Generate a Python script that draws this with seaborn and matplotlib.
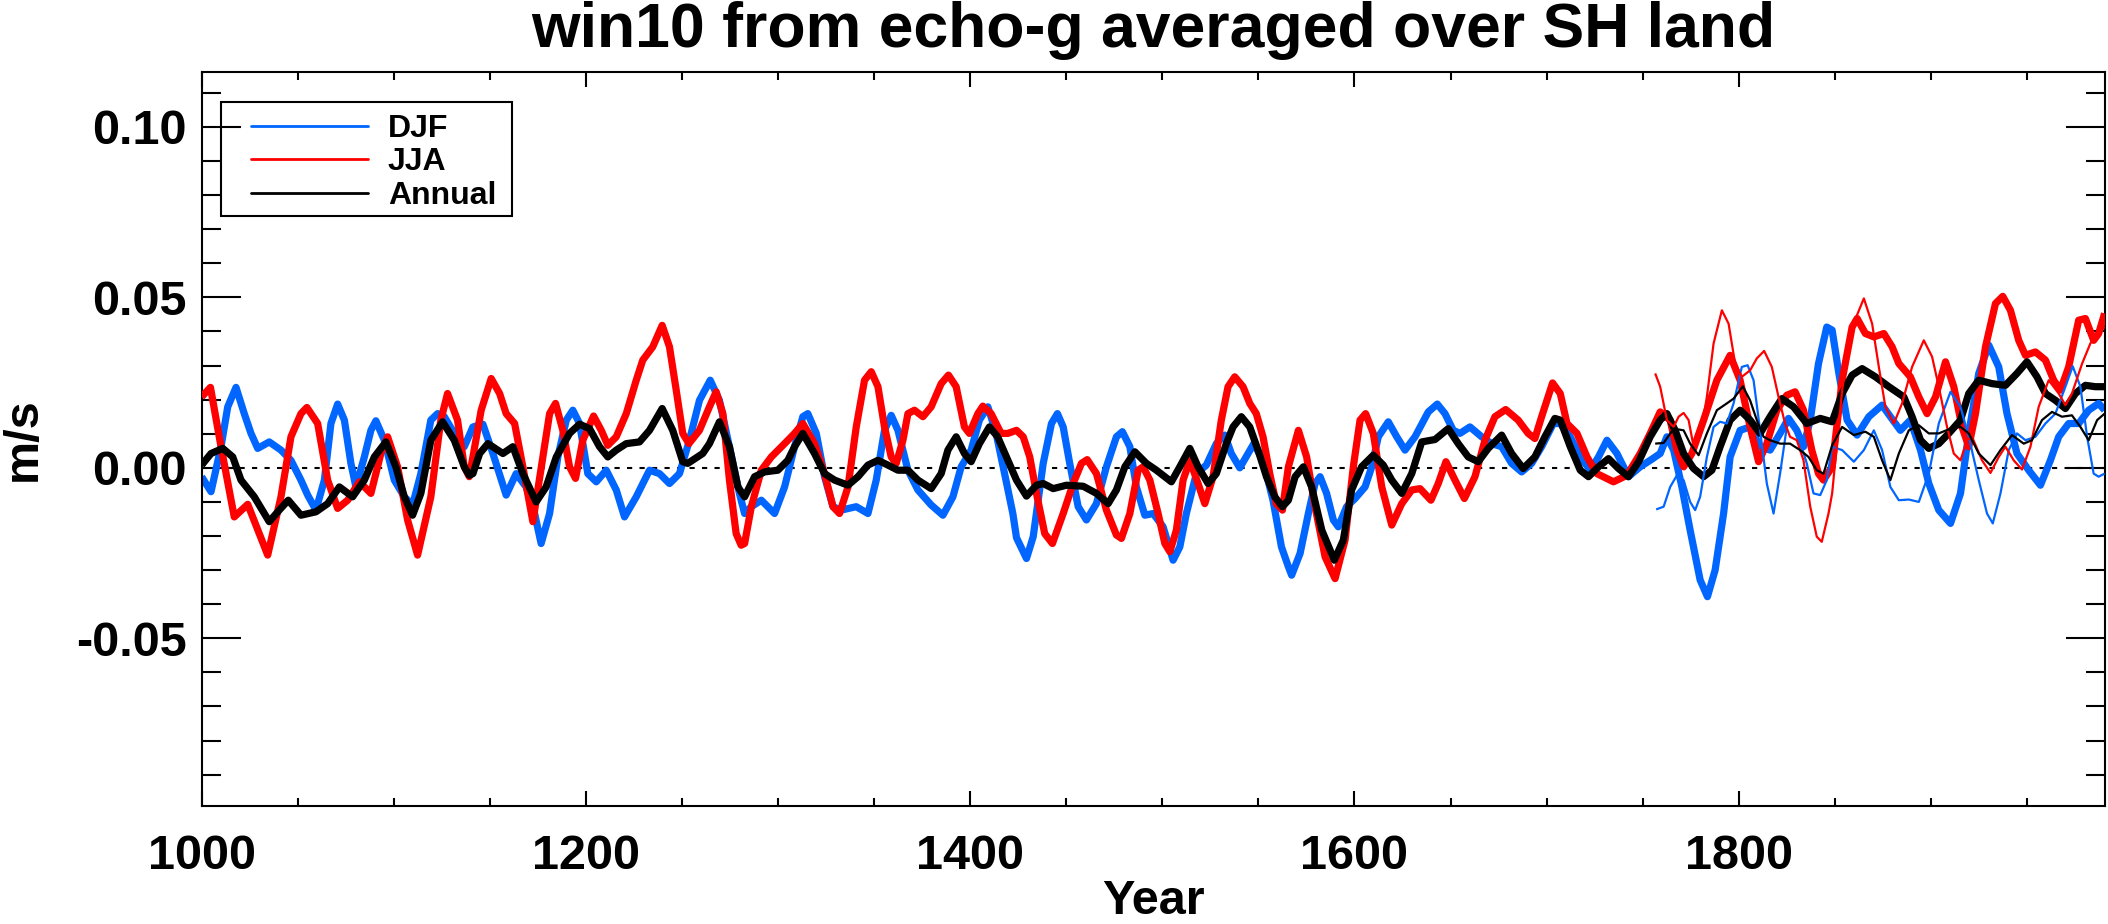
import numpy as np
import pandas as pd
import matplotlib
matplotlib.use("Agg")
import matplotlib.pyplot as plt
import seaborn as sns
from matplotlib.lines import Line2D
from matplotlib.patches import Rectangle
from matplotlib.ticker import MultipleLocator, FormatStrFormatter

# ---------------- data ----------------
djf_year = [1000.0, 1004.9, 1010.1, 1013.6, 1017.9, 1022.2, 1025.7, 1029.2, 1035.2, 1041.3, 1046.5, 1051.7,
            1055.2, 1059.5, 1063.9, 1067.3, 1070.8, 1074.3, 1077.7, 1080.3, 1084.7, 1088.1, 1090.7, 1095.1,
            1100.3, 1105.5, 1109.8, 1114.1, 1119.3, 1122.8, 1126.3, 1131.5, 1136.7,
            1141.2, 1146.4, 1151.6, 1158.5, 1163.7, 1168.9, 1173.3, 1176.7, 1181.1, 1185.4, 1189.8, 1193.2,
            1196.7, 1201.0, 1205.4, 1210.6, 1215.8, 1220.1, 1226.2, 1233.1, 1238.3, 1243.5, 1248.7, 1253.9,
            1259.1, 1264.7, 1269.5, 1274.7, 1279.9,
            1282.6, 1286.1, 1291.3, 1298.2, 1303.4, 1308.6, 1312.9, 1315.5, 1319.9, 1324.2, 1328.6, 1332.9,
            1340.7, 1346.8, 1351.1, 1355.4, 1358.9, 1362.4, 1367.6, 1372.8, 1379.7, 1385.8, 1391.0, 1395.3,
            1400.5, 1404.8, 1409.2, 1413.5, 1417.9, 1422.2,
            1424.1, 1429.3, 1432.8, 1438.0, 1442.3, 1445.4, 1448.4, 1451.8, 1456.2, 1460.5, 1465.7, 1470.9,
            1476.1, 1479.2, 1483.1, 1486.5, 1490.9, 1495.2, 1500.4, 1505.6, 1509.1, 1512.5, 1517.7, 1522.9,
            1528.1, 1532.5, 1535.9, 1540.3, 1544.6, 1547.6, 1552.4, 1557.6, 1562.0,
            1565.6, 1567.3, 1571.7, 1576.0, 1579.5, 1582.1, 1585.5, 1589.0, 1591.6, 1595.9, 1600.3, 1605.5,
            1609.0, 1612.4, 1617.6, 1622.0, 1626.3, 1631.5, 1638.4, 1643.1, 1647.1, 1651.4, 1654.9, 1660.1,
            1666.2, 1671.4, 1676.6, 1681.8, 1687.0, 1692.2, 1697.4, 1703.5,
            1707.1, 1712.3, 1717.5, 1722.7, 1727.0, 1731.4, 1736.6, 1742.6, 1748.7, 1753.9, 1759.1, 1762.6,
            1766.1, 1770.4, 1774.7, 1779.9, 1783.7, 1787.7, 1792.1, 1795.5, 1800.7, 1805.9, 1811.1, 1816.3,
            1821.5, 1825.9, 1830.2, 1833.7, 1837.2, 1841.5, 1845.8,
            1848.6, 1852.1, 1856.4, 1861.6, 1867.7, 1874.6, 1878.9, 1884.1, 1889.3, 1894.6, 1898.9, 1904.1,
            1910.2, 1915.4, 1919.7, 1924.9, 1930.1, 1935.3, 1939.6, 1944.8, 1950.9, 1957.0, 1962.2, 1966.5,
            1971.7, 1976.9, 1982.1, 1987.3, 1990.4]
djf_val = [-0.0026, -0.0070, 0.0062, 0.0179, 0.0236, 0.0159, 0.0101, 0.0057, 0.0076, 0.0052, 0.0022, -0.0036,
           -0.0080, -0.0124, -0.0036, 0.0130, 0.0187, 0.0140, 0.0013, -0.0056, 0.0032, 0.0110, 0.0138, 0.0081,
           -0.0036, -0.0085, -0.0109, -0.0017, 0.0140, 0.0159, 0.0150, 0.0101, 0.0062,
           0.0120, 0.0128, 0.0042, -0.0080, -0.0017, -0.0056, -0.0134, -0.0222, -0.0134, 0.0032, 0.0140, 0.0169,
           0.0130, -0.0017, -0.0041, -0.0007, -0.0065, -0.0144, -0.0085, -0.0007, -0.0017, -0.0046, -0.0017, 0.0081,
           0.0198, 0.0257, 0.0198, 0.0062, -0.0075,
           -0.0134, -0.0114, -0.0095, -0.0134, -0.0056, 0.0062, 0.0150, 0.0159, 0.0101, -0.0026, -0.0114, -0.0124,
           -0.0114, -0.0134, -0.0036, 0.0110, 0.0154, 0.0110, -0.0007, -0.0065, -0.0109, -0.0139, -0.0085, 0.0003,
           0.0052, 0.0140, 0.0179, 0.0101, -0.0017, -0.0134,
           -0.0205, -0.0266, -0.0202, 0.0013, 0.0130, 0.0159, 0.0120, 0.0013, -0.0114, -0.0153, -0.0105, 0.0003,
           0.0091, 0.0106, 0.0062, -0.0056, -0.0139, -0.0134, -0.0173, -0.0271, -0.0232, -0.0134, -0.0017, 0.0008,
           0.0071, 0.0096, 0.0042, 0.0000, 0.0042, 0.0071, 0.0022, -0.0095, -0.0232,
           -0.0290, -0.0315, -0.0251, -0.0134, -0.0046, -0.0026, -0.0075, -0.0153, -0.0173, -0.0114, -0.0090, -0.0056,
           0.0003, 0.0091, 0.0135, 0.0091, 0.0052, 0.0091, 0.0164, 0.0187, 0.0159, 0.0110, 0.0101, 0.0120,
           0.0091, 0.0071, 0.0062, 0.0013, -0.0012, 0.0013, 0.0062, 0.0130,
           0.0130, 0.0091, 0.0032, -0.0007, 0.0032, 0.0081, 0.0042, -0.0026, 0.0003, 0.0022, 0.0042, 0.0091,
           0.0052, -0.0056, -0.0183, -0.0329, -0.0378, -0.0300, -0.0134, 0.0032, 0.0110, 0.0120, 0.0062, 0.0052,
           0.0101, 0.0145, 0.0110, 0.0062, 0.0140, 0.0306, 0.0413,
           0.0404, 0.0277, 0.0140, 0.0096, 0.0150, 0.0184, 0.0150, 0.0110, 0.0140, 0.0052, -0.0046, -0.0124,
           -0.0163, -0.0075, 0.0101, 0.0277, 0.0360, 0.0296, 0.0159, 0.0042, -0.0007, -0.0051, 0.0022, 0.0091,
           0.0130, 0.0130, 0.0169, 0.0189, 0.0169]

jja_year = [1000.0, 1004.6, 1010.1, 1017.0, 1024.0, 1034.4, 1041.3, 1046.5, 1051.7, 1054.8, 1060.4, 1065.6,
            1070.8, 1076.0, 1082.1, 1088.1, 1093.3, 1096.8, 1102.0, 1107.2, 1112.4, 1119.3, 1124.5, 1128.0,
            1133.2, 1136.7, 1139.3,
            1141.2, 1145.5, 1150.7, 1155.1, 1158.5, 1162.9, 1167.2, 1172.4, 1177.6, 1181.1, 1184.2, 1188.0,
            1191.5, 1194.6, 1198.4, 1204.0, 1208.0, 1211.4, 1215.8, 1221.0, 1226.2, 1229.6, 1234.8, 1239.7,
            1243.5, 1247.0, 1250.4, 1253.6, 1259.1, 1264.3, 1267.8, 1271.3, 1274.7, 1278.2, 1280.8,
            1282.6, 1286.1, 1291.3, 1296.5, 1303.4, 1308.6, 1312.9, 1319.0, 1324.2, 1328.6, 1332.0, 1336.4,
            1340.7, 1345.0, 1348.5, 1352.0, 1355.4, 1358.9, 1361.5, 1365.0, 1367.6, 1371.0, 1375.4, 1379.7,
            1384.9, 1388.7, 1392.7, 1397.0, 1399.6, 1404.0, 1406.6, 1410.9, 1416.1, 1419.6,
            1424.1, 1427.6, 1431.0, 1434.5, 1438.8, 1442.8, 1448.4, 1453.6, 1457.9, 1460.9, 1465.7, 1470.9,
            1476.1, 1478.7, 1483.1, 1487.4, 1490.0, 1493.5, 1497.8, 1501.3, 1503.9, 1507.3, 1510.8, 1514.3,
            1518.6, 1522.1, 1526.4, 1530.7, 1534.2, 1537.7, 1542.0, 1545.5, 1548.9, 1552.4, 1555.9, 1559.3,
            1562.5,
            1565.6, 1570.8, 1575.1, 1579.5, 1584.7, 1589.9, 1595.1, 1599.4, 1602.9, 1605.8, 1609.8, 1614.2,
            1619.4, 1624.6, 1629.8, 1634.1, 1639.8, 1643.6, 1647.6, 1652.3, 1657.2, 1662.7, 1667.9, 1673.1,
            1678.7, 1685.2, 1690.4, 1693.9, 1697.4, 1703.1,
            1707.1, 1710.6, 1715.8, 1721.0, 1726.2, 1734.8, 1741.8, 1748.7, 1753.9, 1759.1, 1764.3, 1767.8,
            1771.3, 1775.6, 1781.7, 1788.6, 1795.5, 1800.7, 1805.9, 1810.3, 1814.6, 1819.8, 1825.0, 1829.3,
            1833.7, 1838.0, 1841.5, 1844.1,
            1848.6, 1853.8, 1859.0, 1861.6, 1865.9, 1870.3, 1875.5, 1879.8, 1883.3, 1889.3, 1893.7, 1898.0,
            1902.4, 1907.6, 1911.9, 1916.2, 1919.7, 1923.2, 1928.4, 1933.6, 1937.4, 1941.4, 1945.7, 1949.2,
            1954.4, 1959.6, 1963.9, 1967.4, 1971.7, 1976.9, 1980.4, 1984.7, 1987.3, 1990.4]
jja_val = [0.0208, 0.0236, 0.0062, -0.0144, -0.0107, -0.0256, -0.0085, 0.0091, 0.0159, 0.0177, 0.0130, -0.0036,
           -0.0119, -0.0095, -0.0041, -0.0075, 0.0042, 0.0091, 0.0003, -0.0153, -0.0256, -0.0085, 0.0140, 0.0218,
           0.0140, 0.0003, -0.0026,
           0.0032, 0.0169, 0.0262, 0.0218, 0.0159, 0.0130, 0.0003, -0.0158, 0.0032, 0.0159, 0.0189, 0.0110,
           0.0003, -0.0031, 0.0081, 0.0152, 0.0110, 0.0066, 0.0091, 0.0159, 0.0257, 0.0316, 0.0355, 0.0418,
           0.0355, 0.0228, 0.0101, 0.0071, 0.0110, 0.0179, 0.0223, 0.0159, -0.0036, -0.0193, -0.0227,
           -0.0222, -0.0114, -0.0007, 0.0032, 0.0071, 0.0101, 0.0130, 0.0071, -0.0017, -0.0114, -0.0134, -0.0056,
           0.0120, 0.0257, 0.0282, 0.0238, 0.0120, 0.0032, 0.0013, 0.0081, 0.0159, 0.0169, 0.0150, 0.0179,
           0.0247, 0.0272, 0.0238, 0.0120, 0.0101, 0.0159, 0.0181, 0.0159, 0.0101, 0.0101,
           0.0110, 0.0091, 0.0032, -0.0075, -0.0193, -0.0222, -0.0134, -0.0046, 0.0013, 0.0024, -0.0017, -0.0124,
           -0.0197, -0.0207, -0.0134, -0.0007, 0.0003, -0.0036, -0.0134, -0.0222, -0.0246, -0.0183, -0.0036, 0.0022,
           -0.0046, -0.0105, -0.0026, 0.0140, 0.0238, 0.0267, 0.0238, 0.0189, 0.0159, 0.0091, -0.0017, -0.0105,
           -0.0124,
           0.0003, 0.0110, 0.0032, -0.0114, -0.0261, -0.0325, -0.0212, 0.0003, 0.0140, 0.0159, 0.0101, -0.0056,
           -0.0168, -0.0105, -0.0065, -0.0061, -0.0095, -0.0046, 0.0018, -0.0036, -0.0090, -0.0026, 0.0081, 0.0150,
           0.0171, 0.0140, 0.0101, 0.0086, 0.0150, 0.0249,
           0.0218, 0.0130, 0.0101, 0.0032, -0.0017, -0.0041, -0.0022, 0.0042, 0.0101, 0.0164, 0.0140, 0.0052,
           0.0003, 0.0042, 0.0140, 0.0257, 0.0330, 0.0257, 0.0120, 0.0018, 0.0071, 0.0169, 0.0213, 0.0223,
           0.0169, 0.0052, -0.0017, -0.0036,
           0.0003, 0.0257, 0.0413, 0.0438, 0.0394, 0.0384, 0.0394, 0.0355, 0.0306, 0.0267, 0.0208, 0.0159,
           0.0208, 0.0311, 0.0238, 0.0120, 0.0062, 0.0159, 0.0355, 0.0482, 0.0503, 0.0462, 0.0374, 0.0330,
           0.0340, 0.0316, 0.0257, 0.0228, 0.0296, 0.0433, 0.0438, 0.0374, 0.0394, 0.0453]

ann_year = [1000.0, 1004.9, 1011.0, 1016.2, 1020.5, 1027.4, 1035.2, 1040.4, 1045.1, 1051.7, 1059.5, 1065.6,
            1071.7, 1078.6, 1084.7, 1089.9, 1095.9, 1101.1, 1105.5, 1109.8, 1114.1, 1119.3, 1125.4, 1131.5,
            1136.7, 1139.3,
            1141.2, 1144.7, 1149.0, 1156.8, 1162.0, 1167.2, 1174.1, 1179.3, 1184.6, 1191.5, 1196.7, 1201.9,
            1207.1, 1211.4, 1215.8, 1221.0, 1227.9, 1233.1, 1239.7, 1245.2, 1250.4, 1253.0, 1260.8, 1264.3,
            1269.5, 1274.7, 1279.1,
            1282.6, 1287.8, 1293.0, 1299.9, 1305.1, 1308.6, 1312.9, 1319.0, 1324.2, 1329.4, 1336.4, 1341.6,
            1346.8, 1352.0, 1357.2, 1362.4, 1367.6, 1372.8, 1379.7, 1384.9, 1388.4, 1392.7, 1397.0, 1400.5,
            1404.8, 1410.0, 1414.3, 1419.6,
            1424.1, 1429.3, 1434.5, 1438.0, 1443.2, 1450.1, 1458.8, 1465.7, 1471.8, 1476.1, 1480.5, 1485.7,
            1491.7, 1496.9, 1501.3, 1504.7, 1509.1, 1514.3, 1518.6, 1523.8, 1528.1, 1533.3, 1536.8, 1541.1,
            1545.5, 1549.8, 1554.2, 1558.5, 1562.5,
            1565.6, 1569.1, 1573.4, 1577.7, 1583.0, 1589.5, 1594.2, 1598.5, 1603.7, 1609.8, 1615.0, 1619.4,
            1624.6, 1629.8, 1635.0, 1641.9, 1648.8, 1654.0, 1659.2, 1664.4, 1669.6, 1676.6, 1681.8, 1687.8,
            1693.9, 1699.1, 1704.3,
            1707.1, 1712.3, 1717.5, 1721.8, 1727.0, 1732.2, 1737.4, 1742.6, 1747.9, 1753.9, 1759.1, 1762.6,
            1766.9, 1771.3, 1776.5, 1781.7, 1786.0, 1790.3, 1795.5, 1800.7, 1805.9, 1811.1, 1816.3, 1822.4,
            1828.5, 1835.4, 1842.4,
            1848.6, 1853.8, 1859.0, 1864.2, 1871.1, 1878.1, 1885.9, 1890.2, 1894.6, 1898.9, 1904.1, 1909.3,
            1915.4, 1919.7, 1924.9, 1931.8, 1938.8, 1944.8, 1950.0, 1955.2, 1959.6, 1964.8, 1970.0, 1975.2,
            1980.4, 1985.6, 1990.4]
ann_val = [0.0008, 0.0042, 0.0057, 0.0032, -0.0036, -0.0085, -0.0158, -0.0124, -0.0095, -0.0139, -0.0129, -0.0105,
           -0.0056, -0.0085, -0.0036, 0.0032, 0.0076, 0.0003, -0.0085, -0.0139, -0.0075, 0.0081, 0.0135, 0.0081,
           0.0003, -0.0022,
           -0.0017, 0.0042, 0.0071, 0.0042, 0.0062, -0.0017, -0.0100, -0.0056, 0.0032, 0.0101, 0.0128, 0.0115,
           0.0062, 0.0032, 0.0052, 0.0071, 0.0076, 0.0110, 0.0174, 0.0110, 0.0018, 0.0013, 0.0042, 0.0071,
           0.0135, 0.0062, -0.0056,
           -0.0085, -0.0026, -0.0012, -0.0007, 0.0022, 0.0062, 0.0101, 0.0042, -0.0017, -0.0036, -0.0051, -0.0026,
           0.0008, 0.0022, 0.0008, -0.0007, -0.0007, -0.0036, -0.0061, -0.0017, 0.0052, 0.0091, 0.0042, 0.0018,
           0.0071, 0.0120, 0.0091, 0.0022,
           -0.0036, -0.0083, -0.0051, -0.0046, -0.0061, -0.0051, -0.0054, -0.0075, -0.0105, -0.0065, 0.0003, 0.0047,
           0.0013, -0.0007, -0.0026, -0.0041, 0.0003, 0.0057, 0.0003, -0.0046, -0.0017, 0.0071, 0.0120, 0.0150,
           0.0120, 0.0052, -0.0026, -0.0085, -0.0114,
           -0.0095, -0.0026, 0.0003, -0.0056, -0.0183, -0.0271, -0.0212, -0.0065, 0.0003, 0.0037, 0.0008, -0.0036,
           -0.0075, -0.0017, 0.0076, 0.0083, 0.0115, 0.0071, 0.0032, 0.0018, 0.0057, 0.0096, 0.0042, -0.0002,
           0.0032, 0.0091, 0.0145,
           0.0140, 0.0062, -0.0007, -0.0026, 0.0003, 0.0027, -0.0002, -0.0026, 0.0018, 0.0091, 0.0140, 0.0159,
           0.0110, 0.0042, -0.0002, -0.0026, -0.0007, 0.0062, 0.0140, 0.0169, 0.0140, 0.0101, 0.0150, 0.0203,
           0.0179, 0.0130, 0.0145,
           0.0135, 0.0218, 0.0272, 0.0291, 0.0267, 0.0238, 0.0208, 0.0150, 0.0081, 0.0057, 0.0071, 0.0101,
           0.0140, 0.0218, 0.0257, 0.0247, 0.0242, 0.0277, 0.0311, 0.0267, 0.0218, 0.0198, 0.0174, 0.0218,
           0.0242, 0.0238, 0.0238]

# thin lines: second (shorter) series from ~1757
djf2_year = [1757.0, 1760.9, 1764.3, 1767.8, 1771.3, 1774.7, 1777.3, 1779.9, 1783.4, 1786.9, 1790.3, 1793.8,
             1797.3, 1801.6, 1804.6, 1807.7, 1811.1, 1814.6, 1818.1, 1821.5, 1825.0, 1827.6, 1831.1, 1835.4,
             1838.9, 1842.4, 1845.8,
             1848.6, 1853.8, 1859.9, 1865.1, 1870.3, 1874.6, 1878.9, 1883.3, 1888.5, 1893.7, 1898.9, 1904.1,
             1910.2, 1915.4, 1919.7, 1924.9, 1929.2, 1932.2, 1936.2, 1940.5, 1944.8, 1949.2, 1954.4, 1959.6,
             1964.8, 1970.0, 1973.8, 1977.8, 1981.3, 1984.7, 1987.3, 1990.4]
djf2_val = [-0.0122, -0.0114, -0.0056, -0.0022, -0.0036, -0.0100, -0.0124, -0.0085, 0.0032, 0.0120, 0.0135, 0.0130,
            0.0189, 0.0296, 0.0301, 0.0257, 0.0110, -0.0046, -0.0134, -0.0017, 0.0120, 0.0140, 0.0091, 0.0013,
            -0.0075, -0.0080, -0.0036,
            0.0062, 0.0052, 0.0018, 0.0052, 0.0110, 0.0052, -0.0056, -0.0095, -0.0093, -0.0100, -0.0017, 0.0130,
            0.0223, 0.0179, 0.0091, -0.0036, -0.0134, -0.0163, -0.0075, 0.0052, 0.0101, 0.0081, 0.0091, 0.0130,
            0.0159, 0.0238, 0.0298, 0.0238, 0.0091, -0.0017, -0.0026, -0.0017]

jja2_year = [1756.5, 1759.1, 1762.6, 1766.1, 1768.7, 1771.3, 1773.9, 1776.5, 1779.9, 1783.4, 1786.9, 1791.2,
             1794.7, 1798.1, 1801.6, 1805.9, 1809.4, 1813.2, 1817.2, 1820.7, 1824.1, 1826.7, 1830.2, 1833.7,
             1837.2, 1840.6, 1843.2, 1846.7,
             1848.6, 1853.8, 1859.0, 1865.1, 1869.4, 1872.9, 1876.3, 1880.7, 1885.0, 1890.2, 1896.3, 1900.6,
             1904.1, 1908.4, 1911.9, 1915.4, 1918.8, 1921.4, 1926.6, 1931.0, 1935.3, 1938.8, 1943.1, 1947.4,
             1951.8, 1956.1, 1961.3, 1966.5, 1970.0, 1973.4, 1978.7, 1983.0, 1985.6, 1990.4]
jja2_val = [0.0277, 0.0238, 0.0140, 0.0120, 0.0150, 0.0161, 0.0140, 0.0062, 0.0091, 0.0208, 0.0365, 0.0462,
            0.0423, 0.0306, 0.0267, 0.0286, 0.0321, 0.0343, 0.0296, 0.0208, 0.0130, 0.0091, 0.0081, 0.0022,
            -0.0114, -0.0202, -0.0217, -0.0134,
            -0.0075, 0.0228, 0.0413, 0.0497, 0.0423, 0.0296, 0.0179, 0.0130, 0.0189, 0.0296, 0.0374, 0.0326,
            0.0238, 0.0120, 0.0042, 0.0022, 0.0081, 0.0091, 0.0022, -0.0015, 0.0032, 0.0062, 0.0022, -0.0005,
            0.0062, 0.0179, 0.0257, 0.0218, 0.0184, 0.0218, 0.0306, 0.0365, 0.0389, 0.0413]

ann2_year = [1756.5, 1760.9, 1766.1, 1771.3, 1774.7, 1779.1, 1783.4, 1788.6, 1793.8, 1797.3, 1802.1, 1805.9,
             1809.4, 1812.9, 1816.3, 1821.5, 1826.7, 1831.9, 1836.3, 1840.6, 1844.1,
             1848.6, 1853.8, 1859.9, 1865.9, 1870.3, 1874.6, 1878.9, 1883.3, 1888.5, 1893.7, 1898.9, 1904.1,
             1910.2, 1915.4, 1919.7, 1924.9, 1931.0, 1936.2, 1942.2, 1948.3, 1952.6, 1957.8, 1963.0, 1968.2,
             1973.4, 1977.8, 1982.1, 1986.5, 1990.4]
ann2_val = [0.0071, 0.0073, 0.0115, 0.0110, 0.0071, 0.0037, 0.0101, 0.0169, 0.0189, 0.0203, 0.0239, 0.0198,
            0.0140, 0.0091, 0.0081, 0.0071, 0.0071, 0.0052, 0.0032, -0.0007, -0.0017,
            0.0066, 0.0120, 0.0096, 0.0106, 0.0091, 0.0022, -0.0036, 0.0042, 0.0110, 0.0125, 0.0101, 0.0101,
            0.0115, 0.0120, 0.0101, 0.0042, 0.0008, 0.0052, 0.0096, 0.0071, 0.0081, 0.0140, 0.0164, 0.0150,
            0.0154, 0.0120, 0.0081, 0.0140, 0.0159]

legend_labels = ["DJF", "JJA", "Annual"]
title_text = "win10 from echo-g averaged over SH land"

# ---------------- style ----------------
BLUE = "#0066ff"
RED = "#ff0000"
BLACK = "#000000"

sns.set_theme(style="ticks")
plt.rcParams["font.family"] = ["Liberation Sans", "DejaVu Sans"]
plt.rcParams["font.weight"] = "bold"
plt.rcParams["axes.unicode_minus"] = False
plt.rcParams["axes.linewidth"] = 1.5
plt.rcParams["axes.edgecolor"] = "black"
plt.rcParams["text.color"] = "black"
plt.rcParams["axes.labelcolor"] = "black"
plt.rcParams["axes.titlecolor"] = "black"
plt.rcParams["xtick.color"] = "black"
plt.rcParams["ytick.color"] = "black"

fig = plt.figure(figsize=(21.08, 9.24), dpi=100)
ax = fig.add_axes([0.09564, 0.1277, 0.90275, 0.7947])

ax.axhline(0.0, color="black", lw=1.5, ls=(0, (2.5, 3.5)), zorder=1)


def draw(years, vals, color, lw, z):
    df = pd.DataFrame({"Year": years, "value": vals})
    sns.lineplot(data=df, x="Year", y="value", color=color, linewidth=lw,
                 estimator=None, sort=False, ax=ax, zorder=z, legend=False,
                 solid_joinstyle="round", solid_capstyle="butt")


draw(djf_year, djf_val, BLUE, 5.2, 2)
draw(jja_year, jja_val, RED, 5.2, 3)
draw(ann_year, ann_val, BLACK, 5.2, 4)
draw(djf2_year, djf2_val, BLUE, 1.6, 5)
draw(jja2_year, jja2_val, RED, 1.6, 6)
draw(ann2_year, ann2_val, BLACK, 1.6, 7)

ax.set_xlim(1000, 1990.4)
ax.set_ylim(-0.0992, 0.1162)
ax.xaxis.set_major_locator(MultipleLocator(200))
ax.xaxis.set_minor_locator(MultipleLocator(50))
ax.yaxis.set_major_locator(MultipleLocator(0.05))
ax.yaxis.set_minor_locator(MultipleLocator(0.01))
ax.yaxis.set_major_formatter(FormatStrFormatter("%.2f"))

ax.tick_params(which="both", direction="in", top=True, right=True,
               width=1.5, color="black", labelcolor="black")
ax.tick_params(axis="x", which="major", length=11, pad=20, labelsize=35)
ax.tick_params(axis="x", which="minor", length=5.5)
ax.tick_params(axis="y", which="major", length=28, pad=10.5, labelsize=35)
ax.tick_params(axis="y", which="minor", length=14)
for lab in ax.get_xticklabels() + ax.get_yticklabels():
    lab.set_fontweight("bold")

ax.set_title(title_text, fontsize=45, fontweight="bold", pad=17.8, y=1.0, color="black")
ax.set_xlabel("Year", fontsize=35, fontweight="bold", color="black")
ax.set_ylabel("m/s", fontsize=35, fontweight="bold", color="black")
ax.xaxis.set_label_coords(0.5, -0.099)
ax.yaxis.set_label_coords(-0.0818, 0.5)

handles = [Line2D([], [], color=c, lw=2.0) for c in (BLUE, RED, BLACK)]
leg = ax.legend(handles, legend_labels, loc="upper left",
                bbox_to_anchor=(0.02596, 0.942), borderaxespad=0, borderpad=0,
                frameon=False, handlelength=3.65, handletextpad=0.63,
                labelspacing=0.10, prop={"size": 23, "weight": "bold"})
leg.set_zorder(10)
for t in leg.get_texts():
    t.set_color("black")
ax.add_patch(Rectangle((0.0102, 0.8039), 0.163 - 0.0102, 0.9583 - 0.8039,
                       transform=ax.transAxes, fill=False, lw=1.5,
                       edgecolor="black", zorder=10))

fig.savefig("out.png", dpi=100, facecolor="white")
